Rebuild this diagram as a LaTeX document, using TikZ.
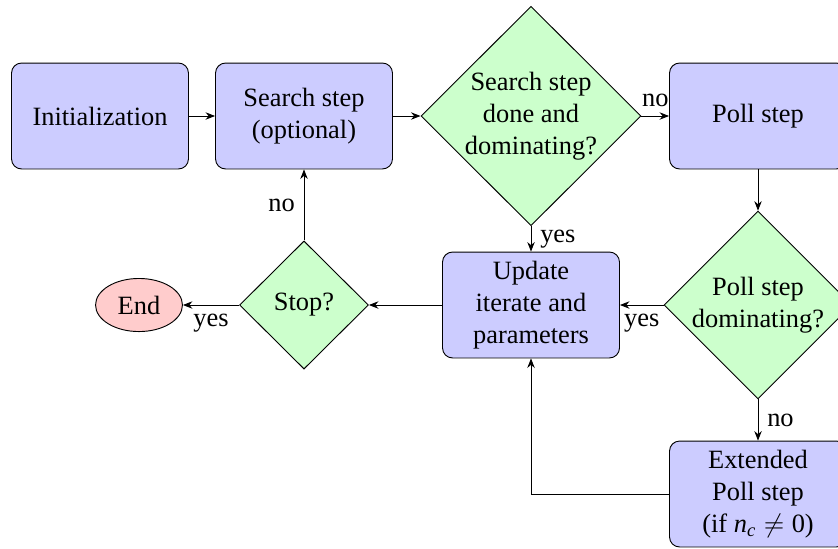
\documentclass[tikz,border=0pt]{standalone}
\usepackage{fontspec}
\setmainfont{LiberationSerif}[
  Extension=.ttf,
  UprightFont=*-Regular,
  ItalicFont=*-Italic,
  BoldFont=*-Bold,
  BoldItalicFont=*-BoldItalic]
\usetikzlibrary{shapes.geometric,arrows.meta}

\tikzset{
  box/.style={draw, rounded corners=3.8pt, fill=blue!20, minimum width=67pt,
    minimum height=40.1pt, align=center, inner sep=2pt},
  decision/.style={draw, diamond, fill=green!20, align=center, inner sep=0pt,
    shape aspect=1},
  terminal/.style={draw, ellipse, fill=red!20, minimum width=32.9pt,
    minimum height=20.1pt, inner sep=0pt},
  arr/.style={-{Stealth[length=3.6pt,width=2.8pt]}},
}

\begin{document}
\begin{tikzpicture}[x=0.3786pt, y=-0.3786pt, line width=0.35pt]
\useasboundingbox (0,0) rectangle (838,548);

% steps and decisions
\node[box] (init) at (100,116) {Initialization};
\node[box] (search) at (304,116) {Search step\\(optional)};
\node[decision, minimum width=83.3pt, minimum height=82.5pt] (sd) at (531,116)
  {Search step\\done and\\dominating?};
\node[box] (poll) at (758,116) {Poll step};
\node[decision, minimum width=71.2pt, minimum height=70.4pt] (pd) at (758,305)
  {Poll step\\dominating?};
\node[box] (ext) at (758,494)
  {Extended\\Poll step\\(if \textit{n}\textsubscript{\textit{c}}$\;\neq\;$0)};
\node[box] (upd) at (531,305) {Update\\iterate and\\parameters};
\node[decision, minimum width=48.8pt, minimum height=48.5pt] (stop) at (304,305) {Stop?};
\node[terminal] (end) at (139,305) {End};

% connectors
\draw[arr] (init) -- (search);
\draw[arr] (search) -- (sd);
\draw[arr] (sd) -- node[above] {no} (poll);
\draw[arr] (poll) -- (pd);
\draw[arr] (sd) -- node[right] {yes} (upd);
\draw[arr] (pd) -- node[below] {yes} (upd);
\draw[arr] (pd) -- node[right] {no} (ext);
\draw[arr] (ext.west) -| (upd.south);
\draw[arr] (upd) -- (stop);
\draw[arr] (stop) -- node[below] {yes} (end);
\draw[arr] (stop) -- node[left] {no} (search);
\end{tikzpicture}
\end{document}
